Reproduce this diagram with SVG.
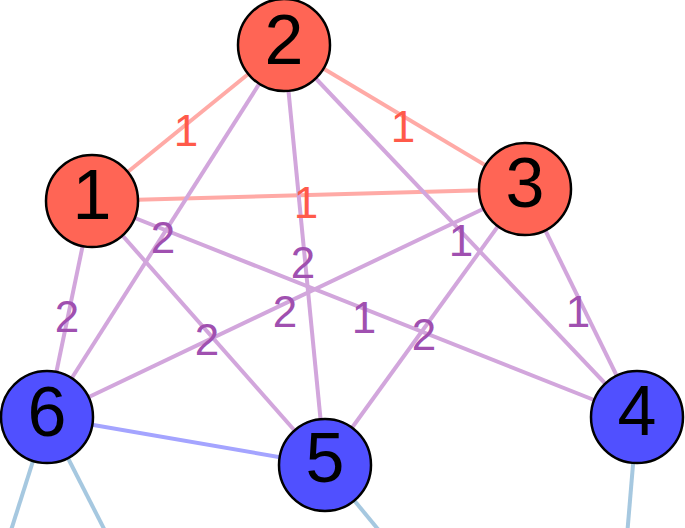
<svg xmlns="http://www.w3.org/2000/svg" width="685" height="528" viewBox="0 0 685 528">
<style>
.e{stroke-width:4;fill:none;stroke-linecap:butt}
.r{stroke:#ffaaa6}
.p{stroke:#d2a6dc}
.b{stroke:#a4a4ff}
.o{stroke:#a6c8e0}
.lr{fill:#ff5a4a;font-family:"Liberation Sans",Arial,sans-serif;font-size:44px;text-anchor:middle}
.lp{fill:#a050b0;font-family:"Liberation Sans",Arial,sans-serif;font-size:44px;text-anchor:middle}
.n circle{stroke:#000;stroke-width:2.5}
.red circle{fill:#ff6555}
.blue circle{fill:#5050ff}
.n text{fill:#000;font-family:"Liberation Sans",Arial,sans-serif;font-size:70px;text-anchor:middle}
</style>
<rect width="685" height="528" fill="#fff"/>
<g id="connectors">
<line class="e o" x1="47" y1="417" x2="0" y2="565"/>
<line class="e o" x1="47" y1="417" x2="123" y2="566"/>
<line class="e o" x1="325" y1="465" x2="405" y2="562"/>
<line class="e o" x1="637" y1="417" x2="625" y2="560"/>
<line class="e r" x1="92" y1="201" x2="284" y2="45"/>
<line class="e r" x1="284" y1="45" x2="525" y2="189"/>
<line class="e r" x1="92" y1="201" x2="525" y2="189"/>
<line class="e p" x1="284" y1="45" x2="47" y2="417"/>
<line class="e p" x1="284" y1="45" x2="325" y2="465"/>
<line class="e p" x1="284" y1="45" x2="637" y2="417"/>
<line class="e p" x1="92" y1="201" x2="47" y2="417"/>
<line class="e p" x1="92" y1="201" x2="325" y2="465"/>
<line class="e p" x1="92" y1="201" x2="637" y2="417"/>
<line class="e p" x1="525" y1="189" x2="47" y2="417"/>
<line class="e p" x1="525" y1="189" x2="325" y2="465"/>
<line class="e p" x1="525" y1="189" x2="637" y2="417"/>
<line class="e b" x1="47" y1="417" x2="325" y2="465"/>
<text class="lr" x="186" y="146">1</text>
<text class="lr" x="403" y="142">1</text>
<text class="lr" x="306" y="218">1</text>
<text class="lp" x="163" y="253">2</text>
<text class="lp" x="303" y="278">2</text>
<text class="lp" x="461" y="256">1</text>
<text class="lp" x="67" y="332">2</text>
<text class="lp" x="207" y="355">2</text>
<text class="lp" x="285" y="327">2</text>
<text class="lp" x="364" y="333">1</text>
<text class="lp" x="424" y="350">2</text>
<text class="lp" x="578" y="327">1</text>
</g>
<g id="node2" class="n red"><circle cx="284" cy="45" r="46"/><text x="284" y="64">2</text></g>
<g id="node1" class="n red"><circle cx="92" cy="201" r="46"/><text x="92" y="219">1</text></g>
<g id="node3" class="n red"><circle cx="525" cy="189" r="46"/><text x="525" y="207">3</text></g>
<g id="node6" class="n blue"><circle cx="47" cy="417" r="46"/><text x="47" y="436">6</text></g>
<g id="node5" class="n blue"><circle cx="325" cy="465" r="46"/><text x="325" y="482">5</text></g>
<g id="node4" class="n blue"><circle cx="637" cy="417" r="46"/><text x="637" y="435">4</text></g>
</svg>
